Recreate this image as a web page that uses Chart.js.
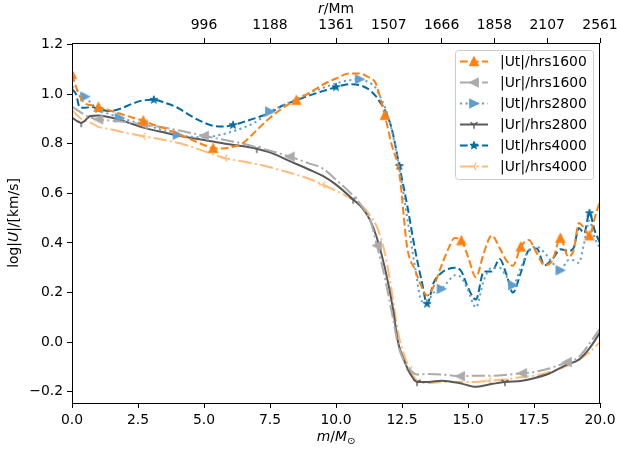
<!DOCTYPE html>
<html><head><meta charset="utf-8">
<script src="https://cdn.jsdelivr.net/npm/chart.js@4.4.0/dist/chart.umd.min.js"></script>
<style>html,body{margin:0;padding:0;background:#fff;}#wrap{width:617px;height:454px;}</style>
</head><body><div id="wrap"><canvas id="c" width="617" height="454"></canvas></div>
<script>
// ---------- data ----------
const mU = [0,0.15,0.3,0.5,0.75,1.0,1.4,1.8,2.3,2.7,3.1,3.5,4.0,4.5,5.0,5.35,5.7,6.1,6.5,7.0,7.5,8.0,8.5,9.0,9.5,10.0,10.5,10.9,11.2,11.5,11.65,11.85,12.1,12.4,12.7,13.0,13.25,13.45,13.7,14.0,14.25,14.5,14.75,15.0,15.3,15.6,15.9,16.2,16.45,16.7,17.0,17.3,17.6,17.9,18.2,18.5,18.8,19.0,19.2,19.4,19.6,19.8,20.0];
const utHrs1600 = [1.08,1.03,0.99,0.962,0.955,0.948,0.935,0.922,0.905,0.893,0.876,0.862,0.84,0.818,0.795,0.782,0.781,0.788,0.805,0.855,0.905,0.945,0.976,1.005,1.038,1.063,1.083,1.083,1.07,1.045,0.995,0.915,0.80,0.68,0.38,0.29,0.222,0.188,0.225,0.31,0.375,0.42,0.41,0.345,0.262,0.36,0.43,0.38,0.33,0.308,0.385,0.412,0.36,0.31,0.33,0.42,0.345,0.37,0.48,0.46,0.43,0.50,0.57];
const utHrs2800 = [1.03,1.02,1.005,0.99,0.96,0.936,0.92,0.905,0.89,0.88,0.866,0.852,0.836,0.828,0.826,0.83,0.838,0.85,0.865,0.89,0.93,0.955,0.98,1.005,1.025,1.043,1.056,1.06,1.05,1.025,0.995,0.948,0.86,0.70,0.50,0.30,0.165,0.165,0.20,0.215,0.245,0.27,0.26,0.21,0.14,0.25,0.30,0.30,0.265,0.23,0.30,0.37,0.385,0.36,0.32,0.29,0.33,0.33,0.32,0.40,0.49,0.42,0.38];
const utHrs4000 = [1.02,1.0,0.945,0.945,0.948,0.94,0.932,0.94,0.962,0.975,0.977,0.966,0.945,0.912,0.885,0.872,0.869,0.875,0.888,0.905,0.925,0.955,0.975,0.995,1.012,1.028,1.04,1.036,1.022,0.993,0.97,0.936,0.865,0.71,0.55,0.37,0.245,0.155,0.24,0.28,0.295,0.30,0.285,0.22,0.172,0.285,0.285,0.335,0.275,0.20,0.28,0.37,0.378,0.31,0.335,0.375,0.368,0.38,0.46,0.44,0.52,0.45,0.40];

const mR = [0,0.35,0.7,1.0,1.5,2.0,2.7,3.5,4.3,5.0,5.8,6.5,7.0,7.5,8.25,9.0,9.5,10.0,10.65,11.0,11.3,11.55,11.85,12.15,12.35,12.55,12.8,13.07,13.5,14.0,14.7,15.3,15.8,16.4,17.05,17.5,18.1,18.75,19.2,19.6,20.0];
const urHrs1600 = [0.95,0.925,0.905,0.898,0.893,0.888,0.878,0.865,0.848,0.832,0.815,0.80,0.785,0.772,0.748,0.72,0.70,0.655,0.59,0.545,0.49,0.39,0.26,0.10,-0.01,-0.07,-0.11,-0.13,-0.128,-0.13,-0.137,-0.135,-0.135,-0.132,-0.125,-0.12,-0.105,-0.08,-0.06,-0.005,0.055];
const urHrs2800 = [0.905,0.884,0.912,0.914,0.905,0.89,0.865,0.845,0.827,0.815,0.80,0.79,0.78,0.765,0.73,0.695,0.67,0.635,0.575,0.54,0.49,0.42,0.30,0.14,0.0,-0.065,-0.125,-0.16,-0.16,-0.155,-0.165,-0.18,-0.17,-0.16,-0.155,-0.145,-0.125,-0.09,-0.07,-0.025,0.04];
const urHrs4000 = [0.935,0.9,0.885,0.868,0.857,0.845,0.83,0.815,0.795,0.77,0.742,0.728,0.718,0.705,0.683,0.658,0.635,0.61,0.575,0.548,0.51,0.465,0.36,0.18,0.04,-0.04,-0.11,-0.155,-0.165,-0.16,-0.16,-0.16,-0.155,-0.15,-0.14,-0.135,-0.12,-0.095,-0.07,-0.04,0.0];

const seriesNames = ['|Ut|/hrs1600','|Ur|/hrs1600','|Ut|/hrs2800','|Ur|/hrs2800','|Ut|/hrs4000','|Ur|/hrs4000'];
const xTicks = [0,2.5,5,7.5,10,12.5,15,17.5,20];
const yTicks = [-0.2,0,0.2,0.4,0.6,0.8,1.0,1.2];
const rTickM = [5,7.5,10,12,14,16,18,20];
const rTickLabels = ['996','1188','1361','1507','1666','1858','2107','2561'];

// ---------- styles ----------
const FAM = '"DejaVu Sans", sans-serif';
const FS = 13.9;
const LW = 2.0;
const DASH = [7.7, 3.3];
const DASHDOT = [13.3, 3.3, 2.1, 3.3];
const DOT = [2.1, 3.4];

function drawMarker(ctx, kind, x, y, color) {
  const s = 4.15;
  ctx.save();
  ctx.translate(x, y);
  ctx.setLineDash([]);
  ctx.fillStyle = color; ctx.strokeStyle = color; ctx.lineWidth = 1.39;
  ctx.lineJoin = 'miter'; ctx.lineCap = 'butt';
  ctx.beginPath();
  if (kind === 'triUp') { ctx.moveTo(0,-s); ctx.lineTo(s,s); ctx.lineTo(-s,s); ctx.closePath(); ctx.fill(); ctx.stroke(); }
  else if (kind === 'triRight') { ctx.moveTo(s,0); ctx.lineTo(-s,-s); ctx.lineTo(-s,s); ctx.closePath(); ctx.fill(); ctx.stroke(); }
  else if (kind === 'triLeft') { ctx.moveTo(-s,0); ctx.lineTo(s,-s); ctx.lineTo(s,s); ctx.closePath(); ctx.fill(); ctx.stroke(); }
  else if (kind === 'star') {
    for (let i = 0; i < 10; i++) {
      const r = (i % 2 === 0) ? s : s * 0.381966;
      const a = -Math.PI/2 + i * Math.PI/5;
      const px = r*Math.cos(a), py = r*Math.sin(a);
      if (i === 0) ctx.moveTo(px,py); else ctx.lineTo(px,py);
    }
    ctx.closePath(); ctx.lineJoin='round'; ctx.lineWidth = 1; ctx.fill(); ctx.stroke();
  }
  else if (kind === 'tri1') { // tri_down
    ctx.moveTo(0,0); ctx.lineTo(0,s);
    ctx.moveTo(0,0); ctx.lineTo(-0.866*s,-0.5*s);
    ctx.moveTo(0,0); ctx.lineTo(0.866*s,-0.5*s); ctx.stroke();
  }
  else if (kind === 'tri3') { // tri_left
    ctx.moveTo(0,0); ctx.lineTo(-s,0);
    ctx.moveTo(0,0); ctx.lineTo(0.5*s,-0.866*s);
    ctx.moveTo(0,0); ctx.lineTo(0.5*s,0.866*s); ctx.stroke();
  }
  ctx.restore();
}
function markerCanvas(kind, color) {
  const c = document.createElement('canvas'); c.width = 16; c.height = 16;
  drawMarker(c.getContext('2d'), kind, 8, 8, color);
  return c;
}

const looks = [
  {color:'#FF800E', dash:DASH,    marker:'triUp',    marks:[0,5,9,15,22,31,42,50,55,60]},
  {color:'#ABABAB', dash:DASHDOT, marker:'triLeft',  marks:[3,6,9,14,21,30,34,37]},
  {color:'#5F9ED1', dash:DOT,     marker:'triRight', marks:[3,7,12,20,27,39,49,55]},
  {color:'#595959', dash:[],      marker:'tri1',     marks:[1,12,18,27,33]},
  {color:'#006BA4', dash:DASH,    marker:'star',     marks:[5,10,17,25,33,37,60]},
  {color:'#FFBC79', dash:DASHDOT, marker:'tri3',     marks:[6,10,16,26,32]}
];
const xs = [mU, mR, mU, mR, mU, mR];
const ys = [utHrs1600, urHrs1600, utHrs2800, urHrs2800, utHrs4000, urHrs4000];

const datasets = seriesNames.map((name, k) => {
  const L = looks[k];
  return {
    label: name,
    data: xs[k].map((x, i) => ({x: x, y: ys[k][i]})),
    borderColor: L.color, backgroundColor: L.color,
    borderWidth: LW, borderDash: L.dash, borderCapStyle: 'butt', borderJoinStyle: 'round',
    fill: false, cubicInterpolationMode: 'monotone',
    pointStyle: markerCanvas(L.marker, L.color),
    pointRadius: (c) => L.marks.includes(c.dataIndex) ? 4 : 0,
    pointHoverRadius: 0, pointHitRadius: 0,
    xAxisID: 'x', yAxisID: 'y'
  };
});

function fmt(v) { return (v < -1e-9 ? '\u2212' : '') + Math.abs(v).toFixed(1); }

const tickFont = {family: FAM, size: FS};
const gridCfg = {drawOnChartArea:false, drawTicks:true, tickLength:5, color:'#000', lineWidth:1};

function fontStr(p, size) { const s = p.sub ? size*0.7 : size; return (p.it ? 'italic ' : '') + s + 'px ' + FAM; }
function drawRich(ctx, parts, cx, baseY, size) {
  let w = 0;
  parts.forEach(p => { ctx.font = fontStr(p, size); p.w = ctx.measureText(p.t).width; w += p.w; });
  let x = cx - w/2;
  ctx.textAlign = 'left'; ctx.textBaseline = 'alphabetic';
  parts.forEach(p => { ctx.font = fontStr(p, size); ctx.fillText(p.t, x, baseY + (p.sub ? size*0.22 : 0)); x += p.w; });
}

const decor = {
  id: 'decor',
  afterDraw(chart) {
    const ctx = chart.ctx, a = chart.chartArea;
    ctx.save();
    ctx.strokeStyle = '#000'; ctx.lineWidth = 1; ctx.setLineDash([]);
    ctx.strokeRect(Math.round(a.left) + 0.5, Math.round(a.top) + 0.5, Math.round(a.right - a.left) - 1, Math.round(a.bottom - a.top));
    ctx.fillStyle = '#000';
    drawRich(ctx, [{t:'m', it:1},{t:'/'},{t:'M', it:1},{t:'\u2299', sub:1}], (a.left + a.right)/2, 441, FS);
    drawRich(ctx, [{t:'r', it:1},{t:'/Mm'}], (a.left + a.right)/2, 13, FS);
    ctx.save();
    ctx.translate(18, (a.top + a.bottom)/2);
    ctx.rotate(-Math.PI/2);
    drawRich(ctx, [{t:'log|'},{t:'U', it:1},{t:'|/[km/s]'}], 0, 0, FS);
    ctx.restore();
    const bx = 455.5, by = 50.5, bw = 138, bh = 129, r = 3;
    ctx.beginPath();
    ctx.moveTo(bx + r, by); ctx.lineTo(bx + bw - r, by); ctx.arcTo(bx + bw, by, bx + bw, by + r, r);
    ctx.lineTo(bx + bw, by + bh - r); ctx.arcTo(bx + bw, by + bh, bx + bw - r, by + bh, r);
    ctx.lineTo(bx + r, by + bh); ctx.arcTo(bx, by + bh, bx, by + bh - r, r);
    ctx.lineTo(bx, by + r); ctx.arcTo(bx, by, bx + r, by, r); ctx.closePath();
    ctx.fillStyle = 'rgba(255,255,255,0.8)'; ctx.fill();
    ctx.strokeStyle = '#cccccc'; ctx.lineWidth = 1; ctx.stroke();
    seriesNames.forEach((name, k) => {
      const L = looks[k];
      const yy = 61.5 + k * 21;
      ctx.save();
      ctx.strokeStyle = L.color; ctx.lineWidth = LW; ctx.setLineDash(L.dash); ctx.lineCap = 'butt';
      ctx.beginPath(); ctx.moveTo(460, yy); ctx.lineTo(488, yy); ctx.stroke();
      ctx.restore();
      drawMarker(ctx, L.marker, 474, yy, L.color);
      ctx.fillStyle = '#000'; ctx.font = FS + 'px ' + FAM; ctx.textAlign = 'left'; ctx.textBaseline = 'middle';
      ctx.fillText(name, 500, yy + 0.5);
    });
    ctx.restore();
  }
};

function noPad(s) { s.paddingLeft = 0; s.paddingRight = 0; s.paddingTop = 0; s.paddingBottom = 0; }

new Chart(document.getElementById('c'), {
  type: 'line',
  data: {datasets: datasets},
  plugins: [decor],
  options: {
    responsive: false, animation: false, events: [],
    layout: {padding: {left: 0, right: 17, top: 0, bottom: 0}},
    plugins: {legend: {display: false}, tooltip: {enabled: false}, title: {display: false}},
    scales: {
      x: {
        type: 'linear', position: 'bottom', min: 0, max: 20,
        afterBuildTicks: (ax) => { ax.ticks = xTicks.map(v => ({value: v})); },
        ticks: {autoSkip: false, maxRotation: 0, padding: 4, color: '#000', font: tickFont, callback: (v) => fmt(v)},
        grid: gridCfg, border: {display: false},
        afterFit: (s) => { s.height = 51; noPad(s); }
      },
      x2: {
        type: 'linear', position: 'top', min: 0, max: 20,
        afterBuildTicks: (ax) => { ax.ticks = rTickM.map(v => ({value: v})); },
        ticks: {autoSkip: false, maxRotation: 0, padding: 4, color: '#000', font: tickFont,
                callback: (v) => { const i = rTickM.findIndex(m => Math.abs(m - v) < 1e-6); return i >= 0 ? rTickLabels[i] : ''; }},
        grid: gridCfg, border: {display: false},
        afterFit: (s) => { s.height = 43; noPad(s); }
      },
      y: {
        type: 'linear', position: 'left', min: -0.245, max: 1.206,
        afterBuildTicks: (ax) => { ax.ticks = yTicks.map(v => ({value: v})); },
        ticks: {autoSkip: false, padding: 4, color: '#000', font: tickFont, callback: (v) => fmt(v)},
        grid: gridCfg, border: {display: false},
        afterFit: (s) => { s.width = 72; noPad(s); }
      }
    }
  }
});
</script>
</body></html>
